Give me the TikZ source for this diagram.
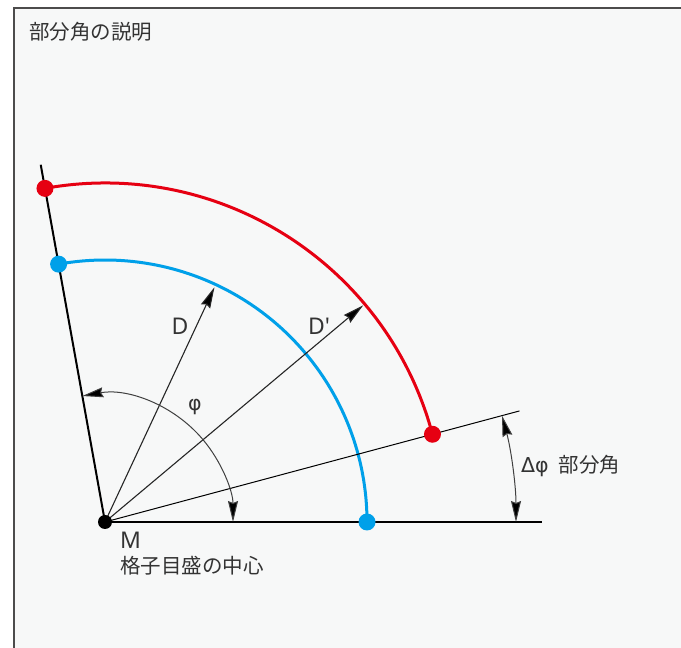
\documentclass[tikz,border=0pt]{standalone}
\usepackage{fontspec}
\setmainfont{Noto Sans CJK JP}
\newfontfamily\lat{Noto Sans}
\newfontfamily\grk{DejaVu Sans}
\usetikzlibrary{arrows.meta,calc}
\definecolor{bgc}{HTML}{F7F8F8}
\definecolor{redc}{HTML}{E60012}
\definecolor{bluec}{HTML}{00A0E9}
\definecolor{txt}{HTML}{333333}
\tikzset{
  lbl/.style={text=txt, inner sep=0pt, font=\fontsize{20.5bp}{24bp}\selectfont},
  biglbl/.style={text=txt, inner sep=0pt, font=\fontsize{23bp}{26bp}\selectfont},
  axisline/.style={line width=2bp, black},
  thinray/.style={line width=1.1bp, black!85, -{Stealth[length=21bp,width=10bp,inset=2bp,fill=black]}},
  arcred/.style={line width=3bp, redc},
  arcblue/.style={line width=3bp, bluec},
  dimarc/.style={line width=1bp, black!75, {Stealth[length=21bp,width=10bp,inset=2bp,fill=black]}-{Stealth[length=21bp,width=10bp,inset=2bp,fill=black]}},
  dotred/.style={circle, fill=redc, minimum size=17bp, inner sep=0pt},
  dotblue/.style={circle, fill=bluec, minimum size=17bp, inner sep=0pt},
  dotblack/.style={circle, fill=black, minimum size=14bp, inner sep=0pt},
}
\begin{document}
\begin{tikzpicture}[x=1bp,y=1bp]
\useasboundingbox (0,0) rectangle (681,648);
\draw[line width=1.5bp, draw=black!70, fill=bgc] (14,-20) rectangle (720,640);
\node[lbl, anchor=west] (title) at (29,616) {部分角の説明};

\coordinate (M) at (105,126);
\coordinate (H) at (542,126);
\coordinate (L) at ($(M)+(100.2:363)$);
\coordinate (P) at ($(M)+(15:429)$);
\coordinate (Dt) at ($(M)+(65:259)$);
\coordinate (Dpt) at ($(M)+(40:337)$);

% arcs
\draw[arcred] ($(M)+(15:339)$) arc[start angle=15, end angle=100.2, radius=339];
\draw[arcblue] ($(M)+(0:262)$) arc[start angle=0, end angle=100.2, radius=262];

% axes
\draw[axisline] (M) -- (H);
\draw[axisline] (M) -- (L);
\draw[line width=1bp, black] (M) -- (P);

% rays
\draw[thinray] (M) -- (Dt);
\draw[thinray] (M) -- (Dpt);

% angle arcs
\draw[dimarc] ($(M)+(100.2:128)$) arc[start angle=100.2, end angle=0, radius=128];
\draw[dimarc] ($(M)+(15:411)$) arc[start angle=15, end angle=0, radius=411];

% dots
\node[dotred] (r1) at ($(M)+(100.2:339)$) {};
\node[dotred] (r2) at ($(M)+(15:339)$) {};
\node[dotblue] (b1) at ($(M)+(100.2:262)$) {};
\node[dotblue] (b2) at ($(M)+(0:262)$) {};
\node[dotblack] (m) at (M) {};

% labels
\node[biglbl] (lD) at (180,322) {\lat D};
\node[biglbl] (lDp) at (319,322) {\lat D\char"27};
\node[lbl] (lphi) at (195,241) {\grk φ};
\node[lbl, anchor=west] (ldphi) at (521,182) {{\grk Δφ}\hspace{10bp}部分角};
\node[biglbl, anchor=west] (lM) at (120,108) {\lat M};
\node[lbl, anchor=west] (lc) at (120,82) {格子目盛の中心};
\end{tikzpicture}
\end{document}
